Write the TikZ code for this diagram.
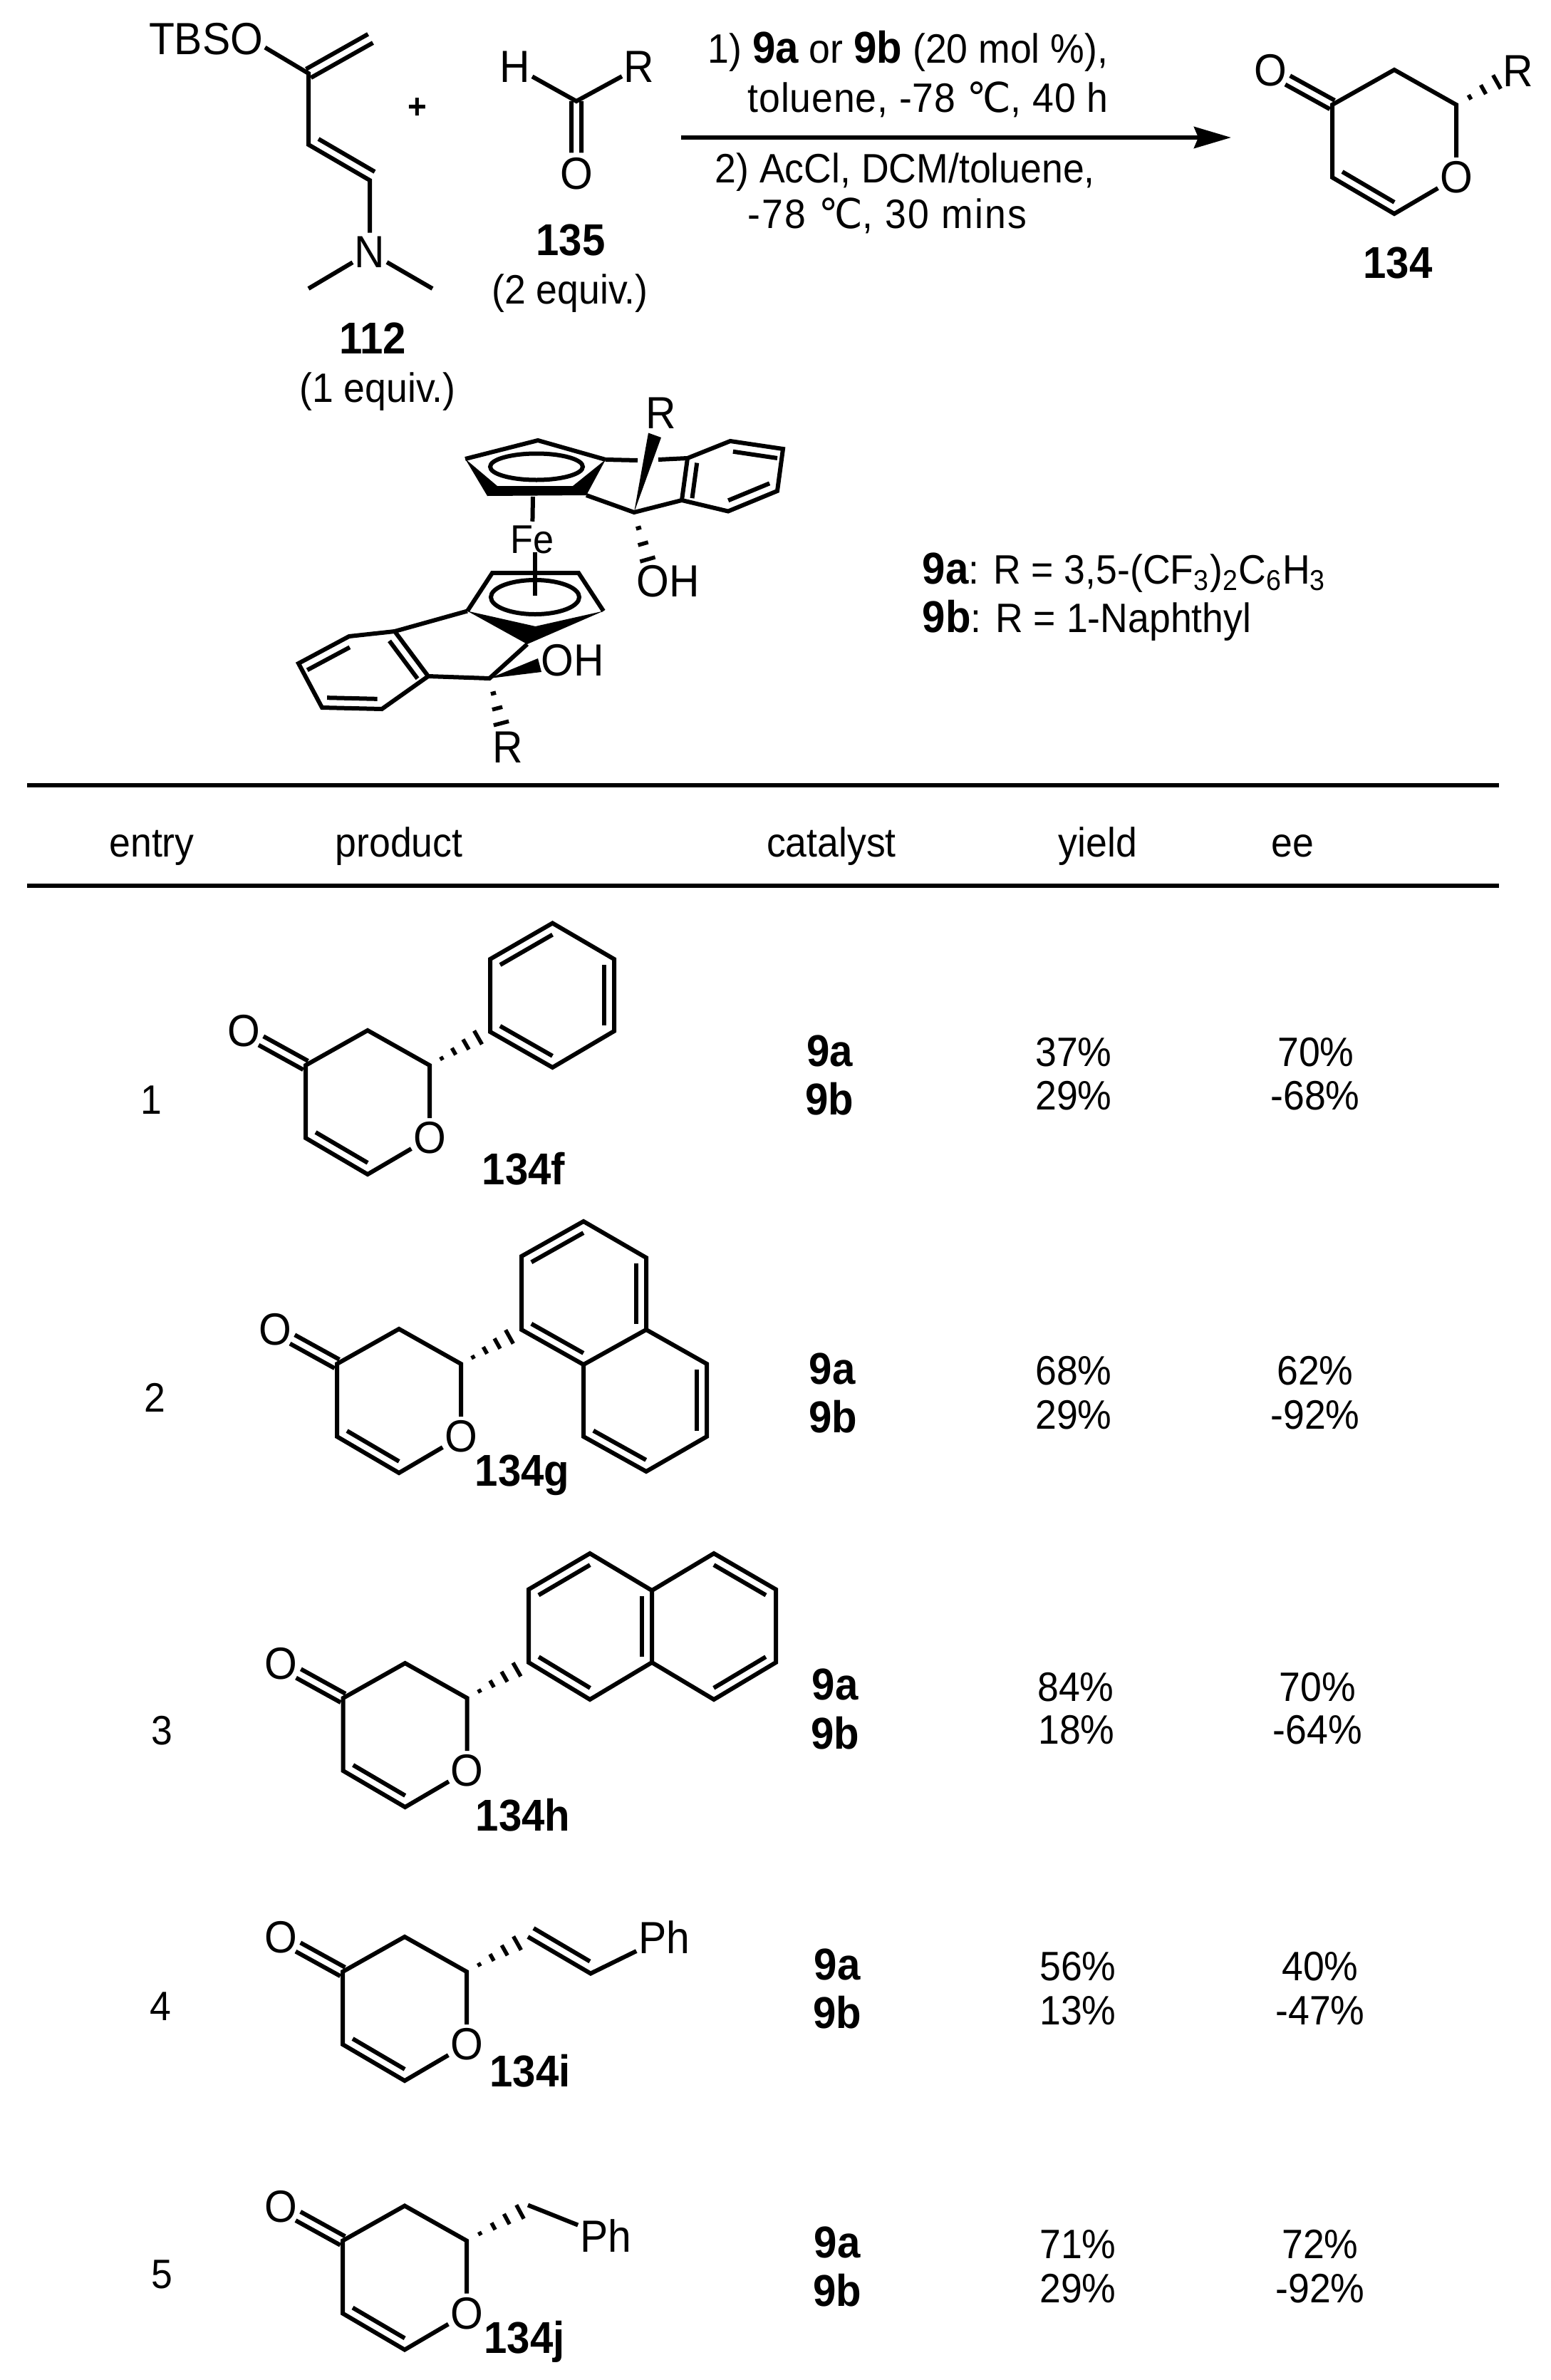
\documentclass[tikz,border=0pt]{standalone}
\usepackage{fontspec}
\setmainfont{Liberation Sans}[FakeStretch=.93]
\newfontfamily\degfont{DejaVu Sans}[FakeStretch=.95]
\usetikzlibrary{calc,arrows.meta}
\tikzset{
  bond/.style={line width=.06cm},
  hash/.style={line width=.055cm},
  rule/.style={line width=.06cm},
  atom/.style={font=\fontsize{18}{20}\selectfont,inner xsep=.6pt,inner ysep=1.4pt},
  txt/.style={font=\fontsize{16.4}{18}\selectfont,inner sep=0pt,anchor=base},
  lab/.style={font=\fontsize{17.8}{20}\bfseries\selectfont,inner sep=0pt,anchor=base},
}
\newcommand{\cpd}[1]{{\fontsize{17.8}{20}\bfseries\selectfont #1}}
\newcommand{\degc}{{\degfont ℃}}
\newcommand{\innerbond}[2]{\draw[bond] ($(#1)!.08!(#2)!.14cm!90:(#2)$) -- ($(#2)!.08!(#1)!.14cm!-90:(#1)$);}
\newcommand{\dblbond}[2]{
  \draw[bond] ($(#1)!.07cm!90:(#2)$) -- ($(#2)!.07cm!-90:(#1)$);
  \draw[bond] ($(#1)!.07cm!-90:(#2)$) -- ($(#2)!.07cm!90:(#1)$);
}
\newcommand{\hashbond}[3]{
  \foreach \i in {1,...,#3}{
    \pgfmathsetmacro\hasht{\i/#3}
    \pgfmathsetmacro\hashw{.11*\i/#3}
    \draw[hash] ($(#1)!\hasht!(#2)!\hashw cm!90:(#1)$) -- ($(#1)!\hasht!(#2)!\hashw cm!-90:(#1)$);
  }
}
\newcommand{\pyranone}[3]{
  \begin{scope}[shift={(#2,#3)}]
  \coordinate (#1c4) at (0,0);
  \coordinate (#1c3) at (.87,-.49);
  \coordinate (#1c2) at (1.74,0);
  \node[atom] (#1o) at (1.74,1.02) {O};
  \coordinate (#1c6) at (.87,1.53);
  \coordinate (#1c5) at (0,1.02);
  \node[atom] (#1ok) at (-.87,-.48) {O};
  \coordinate (#1oke) at ($(#1c4)!.72!(#1ok)$);
  \draw[bond] (#1o) -- (#1c2) -- (#1c3) -- (#1c4) -- (#1c5) -- (#1c6) -- (#1o);
  \innerbond{#1c5}{#1c6}
  \dblbond{#1c4}{#1oke}
  \end{scope}
}
\begin{document}
\begin{tikzpicture}[x=1cm,y=-1cm]
\useasboundingbox (0,0) rectangle (21.76,33.40);
\node[atom,anchor=east] (tbso) at (3.72,.55) {TBSO};
\coordinate (c1) at (4.33,1.03);
\coordinate (c2) at (5.20,.54);
\coordinate (c3) at (4.33,2.03);
\coordinate (c4) at (5.19,2.53);
\node[atom] (n) at (5.19,3.54) {N};
\coordinate (me1) at (4.33,4.05);
\coordinate (me2) at (6.07,4.05);
\coordinate (c3i) at (4.47,1.95);
\coordinate (c4i) at (5.26,2.41);
\draw[bond] (tbso.-8) -- (c1) -- (c3) -- (c4) -- (n);
\draw[bond] (c3i) -- (c4i);
\dblbond{c1}{c2}
\draw[bond] (n) -- (me1);
\draw[bond] (n) -- (me2);
\node[lab] (n112) at (5.23,4.96) {112};
\node[txt] (eq112) at (5.30,5.64) {(1 equiv.)};
\node[font=\fontsize{14}{16}\bfseries\selectfont] (plus) at (5.86,1.52) {+};
\coordinate (c135) at (8.09,1.42);
\node[atom] (h135) at (7.23,.94) {H};
\node[atom] (r135) at (8.97,.94) {R};
\node[atom] (o135) at (8.09,2.44) {O};
\coordinate (c135e) at ($(c135)!.71!(o135)$);
\draw[bond] (h135) -- (c135) -- (r135);
\dblbond{c135}{c135e}
\node[lab] (n135) at (8.01,3.58) {135};
\node[txt] (eq135) at (8.00,4.26) {(2 equiv.)};
\coordinate (arra) at (9.56,1.93);
\coordinate (arrb) at (17.28,1.93);
\draw[bond,-{Stealth[length=.52cm,width=.3cm,inset=.06cm]}] (arra) -- (arrb);
\node[txt,anchor=base west] (cond1) at (9.93,.89) {1) \cpd{9a} or \cpd{9b} (20 mol \%),};
\node[txt,anchor=base west] (cond2) at (10.49,1.57) {\addfontfeatures{LetterSpace=1.5}toluene, -78 \degc, 40 h};
\node[txt,anchor=base west] (cond3) at (10.03,2.57) {2) AcCl, DCM/toluene,};
\node[txt,anchor=base west] (cond4) at (10.49,3.20) {\addfontfeatures{LetterSpace=4}-78 \degc, 30 mins};
\pyranone{p}{18.70}{1.47}
\node[atom] (rp) at (21.31,1.00) {R};
\coordinate (hp) at (21.01,1.15);
\hashbond{pc2}{hp}{3}
\node[lab] (n134) at (19.62,3.90) {134};
\coordinate (cpa) at (6.53,6.44);
\coordinate (cpb) at (7.55,6.18);
\coordinate (cpc) at (8.50,6.45);
\coordinate (cpd) at (8.23,6.95);
\coordinate (cpe) at (6.84,6.96);
\coordinate (cpf) at (6.98,6.82);
\coordinate (cpg) at (8.04,6.82);
\coordinate (cpm) at (7.53,6.55);
\fill (cpa) -- (cpf) -- (cpg) -- (cpc) -- (cpd) -- (cpe) -- cycle;
\draw[bond] (cpa) -- (cpb) -- (cpc);
\draw[bond] (cpm) ellipse [x radius=.65,y radius=.185];
\node[atom,font=\fontsize{16}{18}\selectfont] (fe) at (7.47,7.57) {Fe};
\coordinate (cpu) at (7.48,6.97);
\draw[bond] (cpu) -- (fe);
\coordinate (gapa) at (8.95,6.46);
\coordinate (gapb) at (9.24,6.45);
\coordinate (qc) at (8.90,7.19);
\coordinate (bz1) at (9.65,6.43);
\coordinate (bz2) at (10.25,6.19);
\coordinate (bz3) at (10.99,6.30);
\coordinate (bz4) at (10.91,6.89);
\coordinate (bz5) at (10.22,7.175);
\coordinate (bz6) at (9.57,7.02);
\draw[bond] (cpc) -- (gapa);
\draw[bond] (gapb) -- (bz1);
\draw[bond] (cpd) -- (qc) -- (bz6);
\draw[bond] (bz1) -- (bz2) -- (bz3) -- (bz4) -- (bz5) -- (bz6) -- cycle;
\innerbond{bz1}{bz6}
\innerbond{bz3}{bz2}
\innerbond{bz5}{bz4}
\node[atom] (ru) at (9.28,5.80) {R};
\coordinate (wu1) at (9.10,6.075);
\coordinate (wu2) at (9.28,6.14);
\fill (qc) -- (wu1) -- (wu2) -- cycle;
\node[atom] (ohu) at (9.38,8.16) {OH};
\coordinate (hu) at (9.09,7.85);
\hashbond{qc}{hu}{3}
\coordinate (lc1) at (6.56,8.575);
\coordinate (lc2) at (6.91,8.04);
\coordinate (lc3) at (8.12,8.04);
\coordinate (lc4) at (8.47,8.575);
\coordinate (lc5) at (7.515,8.79);
\coordinate (lc6) at (7.40,9.04);
\coordinate (lcm) at (7.51,8.38);
\coordinate (fel) at (7.51,7.75);
\coordinate (fem) at (7.51,8.36);
\fill (lc1) -- (lc5) -- (lc4) -- (lc6) -- cycle;
\draw[bond] (lc1) -- (lc2) -- (lc3) -- (lc4);
\draw[bond] (lcm) ellipse [x radius=.62,y radius=.24];
\draw[bond] (fel) -- (fem);
\coordinate (lz1) at (5.54,8.86);
\coordinate (lz2) at (4.90,8.93);
\coordinate (lz3) at (4.19,9.31);
\coordinate (lz4) at (4.52,9.93);
\coordinate (lz5) at (5.36,9.95);
\coordinate (lz6) at (6.01,9.49);
\coordinate (lq) at (6.87,9.52);
\draw[bond] (lc1) -- (lz1);
\draw[bond] (lz1) -- (lz2) -- (lz3) -- (lz4) -- (lz5) -- (lz6) -- cycle;
\draw[bond] (lz6) -- (lq) -- (lc6);
\innerbond{lz6}{lz1}
\innerbond{lz2}{lz3}
\innerbond{lz4}{lz5}
\node[atom] (ohl) at (8.04,9.27) {OH};
\coordinate (wl1) at (7.55,9.24);
\coordinate (wl2) at (7.60,9.43);
\fill (lq) -- (wl1) -- (wl2) -- cycle;
\node[atom] (rl) at (7.13,10.49) {R};
\coordinate (hl) at (7.035,10.15);
\hashbond{lq}{hl}{3}
\node[txt,anchor=base west] (leg1) at (12.94,8.19) {\cpd{9a}: R = 3,5-(CF\textsubscript{3})\textsubscript{2}C\textsubscript{6}H\textsubscript{3}};
\node[txt,anchor=base west] (leg2) at (12.94,8.87) {\cpd{9b}: R = 1-Naphthyl};
\coordinate (rula) at (.38,11.02);
\coordinate (rulb) at (21.04,11.02);
\coordinate (rulc) at (.38,12.43);
\coordinate (ruld) at (21.04,12.43);
\draw[rule] (rula) -- (rulb);
\draw[rule] (rulc) -- (ruld);
\node[txt] (hentry) at (2.13,12.02) {entry};
\node[txt] (hproduct) at (5.60,12.02) {product};
\node[txt] (hcat) at (11.67,12.02) {catalyst};
\node[txt] (hyield) at (15.41,12.02) {yield};
\node[txt] (hee) at (18.14,12.02) {ee};
\node[txt] (e1) at (2.12,15.63) {1};
\pyranone{f}{4.29}{14.95}
\coordinate (fa1) at (6.88,14.48);
\coordinate (fa2) at (6.88,13.46);
\coordinate (fa3) at (7.755,12.955);
\coordinate (fa4) at (8.62,13.46);
\coordinate (fa5) at (8.62,14.47);
\coordinate (fa6) at (7.755,14.98);
\draw[bond] (fa1) -- (fa2) -- (fa3) -- (fa4) -- (fa5) -- (fa6) -- cycle;
\innerbond{fa3}{fa2}
\innerbond{fa5}{fa4}
\innerbond{fa1}{fa6}
\coordinate (fh) at (6.71,14.56);
\hashbond{fc2}{fh}{4}
\node[lab] (n134f) at (7.35,16.62) {134f};
\node[lab] (c1a) at (11.645,14.96) {9a};
\node[lab] (c1b) at (11.645,15.64) {9b};
\node[txt] (y1a) at (15.07,14.96) {37\%};
\node[txt] (y1b) at (15.07,15.575) {29\%};
\node[txt] (ee1a) at (18.47,14.96) {70\%};
\node[txt] (ee1b) at (18.46,15.575) {-68\%};
\node[txt] (e2) at (2.17,19.81) {2};
\pyranone{g}{4.73}{19.14}
\coordinate (ga1) at (7.32,18.66);
\coordinate (ga2) at (7.32,17.63);
\coordinate (ga3) at (8.19,17.14);
\coordinate (ga4) at (9.07,17.65);
\coordinate (ga5) at (9.07,18.66);
\coordinate (ga6) at (8.19,19.15);
\coordinate (gb1) at (9.92,19.14);
\coordinate (gb2) at (9.92,20.16);
\coordinate (gb3) at (9.07,20.65);
\coordinate (gb4) at (8.19,20.16);
\draw[bond] (ga1) -- (ga2) -- (ga3) -- (ga4) -- (ga5) -- (ga6) -- cycle;
\draw[bond] (ga5) -- (gb1) -- (gb2) -- (gb3) -- (gb4) -- (ga6);
\innerbond{ga3}{ga2}
\innerbond{ga5}{ga4}
\innerbond{ga1}{ga6}
\innerbond{gb2}{gb1}
\innerbond{gb4}{gb3}
\coordinate (gh) at (7.15,18.76);
\hashbond{gc2}{gh}{4}
\node[lab] (n134g) at (7.33,20.85) {134g};
\node[lab] (c2a) at (11.68,19.42) {9a};
\node[lab] (c2b) at (11.69,20.10) {9b};
\node[txt] (y2a) at (15.07,19.43) {68\%};
\node[txt] (y2b) at (15.07,20.05) {29\%};
\node[txt] (ee2a) at (18.46,19.43) {62\%};
\node[txt] (ee2b) at (18.46,20.05) {-92\%};
\node[txt] (e3) at (2.27,24.48) {3};
\pyranone{h}{4.816}{23.83}
\coordinate (ha1) at (7.42,23.33);
\coordinate (ha2) at (7.42,22.305);
\coordinate (ha3) at (8.28,21.80);
\coordinate (ha4) at (9.15,22.32);
\coordinate (ha5) at (9.15,23.33);
\coordinate (ha6) at (8.28,23.85);
\coordinate (hb1) at (10.02,21.80);
\coordinate (hb2) at (10.89,22.305);
\coordinate (hb3) at (10.89,23.33);
\coordinate (hb4) at (10.02,23.85);
\draw[bond] (ha1) -- (ha2) -- (ha3) -- (ha4) -- (ha5) -- (ha6) -- cycle;
\draw[bond] (ha4) -- (hb1) -- (hb2) -- (hb3) -- (hb4) -- (ha5);
\innerbond{ha3}{ha2}
\innerbond{ha1}{ha6}
\innerbond{ha5}{ha4}
\innerbond{hb2}{hb1}
\innerbond{hb4}{hb3}
\coordinate (hh) at (7.255,23.43);
\hashbond{hc2}{hh}{4}
\node[lab] (n134h) at (7.34,25.69) {134h};
\node[lab] (c3a) at (11.72,23.85) {9a};
\node[lab] (c3b) at (11.72,24.54) {9b};
\node[txt] (y3a) at (15.10,23.87) {84\%};
\node[txt] (y3b) at (15.11,24.475) {18\%};
\node[txt] (ee3a) at (18.495,23.87) {70\%};
\node[txt] (ee3b) at (18.495,24.475) {-64\%};
\node[txt] (e4) at (2.25,28.35) {4};
\pyranone{i}{4.81}{27.67}
\coordinate (ia) at (7.41,27.18);
\coordinate (ib) at (8.29,27.695);
\coordinate (iai) at (7.49,27.06);
\coordinate (ibi) at (8.28,27.525);
\node[atom] (iph) at (9.32,27.19) {Ph};
\draw[bond] (ia) -- (ib) -- (iph);
\draw[bond] (iai) -- (ibi);
\coordinate (ih) at (7.26,27.27);
\hashbond{ic2}{ih}{4}
\node[lab] (n134i) at (7.44,29.28) {134i};
\node[lab] (c4a) at (11.75,27.78) {9a};
\node[lab] (c4b) at (11.75,28.46) {9b};
\node[txt] (y4a) at (15.13,27.79) {56\%};
\node[txt] (y4b) at (15.13,28.41) {13\%};
\node[txt] (ee4a) at (18.53,27.79) {40\%};
\node[txt] (ee4b) at (18.53,28.41) {-47\%};
\node[txt] (e5) at (2.27,32.11) {5};
\pyranone{j}{4.81}{31.445}
\coordinate (ja) at (7.41,30.945);
\node[atom] (jph) at (8.50,31.38) {Ph};
\draw[bond] (ja) -- (jph);
\coordinate (jh) at (7.30,31.04);
\hashbond{jc2}{jh}{4}
\node[lab] (n134j) at (7.36,33.02) {134j};
\node[lab] (c5a) at (11.75,31.68) {9a};
\node[lab] (c5b) at (11.75,32.36) {9b};
\node[txt] (y5a) at (15.13,31.695) {71\%};
\node[txt] (y5b) at (15.13,32.31) {29\%};
\node[txt] (ee5a) at (18.53,31.695) {72\%};
\node[txt] (ee5b) at (18.53,32.31) {-92\%};
\end{tikzpicture}
\end{document}
